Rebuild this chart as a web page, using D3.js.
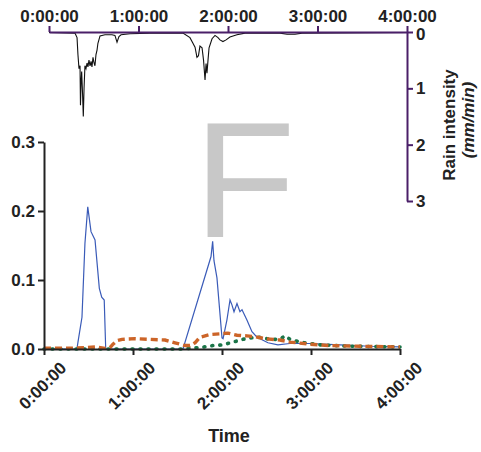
<!DOCTYPE html>
<html>
<head>
<meta charset="utf-8">
<script src="https://cdn.jsdelivr.net/npm/d3@7"></script>
<style>
  html, body { margin: 0; padding: 0; background: #fff; }
  svg { display: block; font-family: "Liberation Sans", Arial, sans-serif; }
</style>
</head>
<body>
<svg id="chart" width="481" height="452"></svg>
<script>
// Time in minutes from start, values as read per series
const hourTicks = [0, 60, 120, 180, 240];
const hourLabels = ["0:00:00", "1:00:00", "2:00:00", "3:00:00", "4:00:00"];
const concTicks = [0, 0.1, 0.2, 0.3];
const rainTicks = [0, 1, 2, 3];

// Rain intensity (mm/min)
const rain = [
  [0, 0.01], [17.4, 0.02], [18.8, 0.1], [19.4, 0.4], [20.1, 0.65], [20.8, 0.6],
  [21.1, 1.3], [21.5, 0.9], [21.9, 0.7], [22.5, 1.1], [23.0, 1.5], [23.5, 1.0],
  [24.1, 0.6], [24.8, 0.65], [25.5, 0.55], [26.1, 0.62], [26.8, 0.5], [27.5, 0.6],
  [28.2, 0.52], [28.8, 0.62], [29.5, 0.45], [30.2, 0.55], [30.8, 0.6], [31.5, 0.4],
  [32.2, 0.32], [32.8, 0.2], [34.2, 0.07], [37.5, 0.05], [42.2, 0.05], [44.2, 0.06],
  [45.6, 0.18], [46.9, 0.08], [48.3, 0.05], [54.3, 0.03], [67.7, 0.02], [89.8, 0.02],
  [94.5, 0.1], [96.5, 0.2], [97.9, 0.27], [99.2, 0.45], [100.2, 0.42], [101.2, 0.25],
  [102.6, 0.28], [103.6, 0.5], [104.6, 0.85], [105.3, 0.56], [105.9, 0.73],
  [106.6, 0.5], [107.3, 0.28], [109.3, 0.12], [111.3, 0.06], [113.3, 0.1],
  [114.6, 0.14], [116.6, 0.17], [118.7, 0.14], [121.3, 0.09], [126.0, 0.05],
  [131.4, 0.02], [154.9, 0.02], [159.6, 0.04], [164.9, 0.04], [169.6, 0.02], [240, 0.01]
];

// Concentration series
const blueSeries = [
  [0, 0], [22.2, 0], [22.9, 0.01], [25.6, 0.046], [27.6, 0.153], [29.5, 0.206],
  [31.7, 0.17], [34.4, 0.158], [37.3, 0.088], [38.9, 0.075], [40.6, 0.071],
  [41.6, 0], [93.7, 0], [112.6, 0.134], [113.7, 0.156], [114.6, 0.128],
  [116.6, 0.103], [120.0, 0.016], [120.7, 0.015], [123.3, 0.042], [125.4, 0.071],
  [126.7, 0.064], [128.1, 0.054], [130.1, 0.066], [132.1, 0.054], [133.5, 0.057],
  [136.8, 0.042], [140.2, 0.025], [143.6, 0.017], [151.0, 0.009], [157.7, 0.006],
  [165.8, 0.008], [179.3, 0.008], [199.5, 0.006], [219.7, 0.004], [240, 0.003]
];
const orangeSeries = [
  [0, 0.001], [17.5, 0.001], [27.6, 0.002], [34.4, 0.003], [41.1, 0.001],
  [44.5, 0.002], [46.5, 0.007], [49.2, 0.012], [52.6, 0.014], [61.3, 0.015],
  [71.4, 0.014], [81.6, 0.013], [88.3, 0.009], [95.0, 0.005], [98.4, 0.005],
  [101.8, 0.009], [105.1, 0.017], [111.9, 0.021], [118.6, 0.022], [124.0, 0.023],
  [130.1, 0.02], [136.8, 0.019], [142.2, 0.018], [149.0, 0.015], [159.1, 0.013],
  [165.8, 0.01], [179.3, 0.007], [192.8, 0.005], [213.0, 0.004], [240, 0.003]
];
const greenSeries = [
  [0, 0], [91.7, 0], [98.4, 0.001], [105.1, 0.002], [113.9, 0.005], [120.7, 0.006],
  [127.4, 0.01], [134.1, 0.014], [138.8, 0.016], [145.6, 0.017], [152.3, 0.014],
  [159.1, 0.014], [162.4, 0.019], [165.8, 0.014], [172.5, 0.01], [186.0, 0.006],
  [206.2, 0.004], [240, 0.003]
];

const svg = d3.select("#chart");
const purple = "#4a1f68";
const fmtHour = d => hourLabels[hourTicks.indexOf(d)];

// ---- lower panel: concentration vs time ----
const x = d3.scaleLinear().domain([0, 240]).range([44, 400]);
const y = d3.scaleLinear().domain([0, 0.3]).range([349, 142]);

// panel letter
svg.append("text")
  .attr("x", 194).attr("y", 237)
  .attr("font-size", 166).attr("fill", "#c8c8c8")
  .text("F");

const line = d3.line().x(d => x(d[0])).y(d => y(d[1]));

svg.append("path").datum(blueSeries).attr("d", line)
  .attr("fill", "none").attr("stroke", "#3a5bb8").attr("stroke-width", 1.2);
svg.append("path").datum(greenSeries).attr("d", line)
  .attr("fill", "none").attr("stroke", "#1b7548").attr("stroke-width", 3.6)
  .attr("stroke-linecap", "round").attr("stroke-dasharray", "1,7");
svg.append("path").datum(orangeSeries).attr("d", line)
  .attr("fill", "none").attr("stroke", "#cc6428").attr("stroke-width", 3.4)
  .attr("stroke-dasharray", "7,4");

const xAxis = svg.append("g").attr("transform", "translate(0,349)")
  .call(d3.axisBottom(x).tickValues(hourTicks).tickFormat(fmtHour).tickSize(6).tickSizeOuter(0));
xAxis.selectAll("text")
  .attr("font-size", 17).attr("font-weight", "bold").attr("fill", "#222")
  .attr("text-anchor", "end")
  .attr("transform", "translate(9,6) rotate(-45)")
  .attr("dy", "0.7em").attr("y", 8).attr("x", 0);

const yAxis = svg.append("g").attr("transform", "translate(44,0)")
  .call(d3.axisLeft(y).tickValues(concTicks).tickFormat(d3.format(".1f")).tickSize(6).tickSizeOuter(0));
yAxis.selectAll("text").attr("font-size", 17).attr("font-weight", "bold").attr("fill", "#222").attr("x", -9);

[xAxis, yAxis].forEach(g => {
  g.select(".domain").attr("stroke", "#222").attr("stroke-width", 2);
  g.selectAll(".tick line").attr("stroke", "#222").attr("stroke-width", 2);
});

svg.append("text").attr("x", 229).attr("y", 442)
  .attr("text-anchor", "middle").attr("font-size", 18).attr("font-weight", "bold").attr("fill", "#222")
  .text("Time");

// ---- upper panel: rain intensity hanging from the top axis ----
const xr = d3.scaleLinear().domain([0, 240]).range([49, 407]);
const yr = d3.scaleLinear().domain([0, 3]).range([32, 201]);

svg.append("path").datum(rain)
  .attr("d", d3.line().x(d => xr(d[0])).y(d => yr(d[1])))
  .attr("fill", "none").attr("stroke", "#111").attr("stroke-width", 1.1);

const topAxis = svg.append("g").attr("transform", "translate(0,32)")
  .call(d3.axisTop(xr).tickValues(hourTicks).tickFormat(fmtHour).tickSize(6).tickSizeOuter(0));
topAxis.selectAll("text").attr("font-size", 17).attr("font-weight", "bold").attr("fill", "#222").attr("y", -10);

const rightAxis = svg.append("g").attr("transform", "translate(407,0)")
  .call(d3.axisRight(yr).tickValues(rainTicks).tickFormat(d3.format("d")).tickSize(6).tickSizeOuter(0));
rightAxis.selectAll("text").attr("font-size", 17).attr("font-weight", "bold").attr("fill", "#222").attr("x", 9);
// keep the zero label clear of the top axis labels
rightAxis.selectAll(".tick text").filter(d => d === 0).attr("dy", "0.45em");

[topAxis, rightAxis].forEach(g => {
  g.select(".domain").attr("stroke", purple).attr("stroke-width", 2);
  g.selectAll(".tick line").attr("stroke", purple).attr("stroke-width", 2);
});

svg.append("text").attr("transform", "translate(455,125) rotate(-90)")
  .attr("text-anchor", "middle")
  .attr("font-size", 17).attr("font-weight", "bold").attr("fill", "#222")
  .text("Rain intensity");
svg.append("text").attr("transform", "translate(474,120) rotate(-90)")
  .attr("text-anchor", "middle")
  .attr("font-size", 17).attr("font-weight", "bold").attr("font-style", "italic").attr("fill", "#222")
  .text("(mm/min)");
</script>
</body>
</html>
